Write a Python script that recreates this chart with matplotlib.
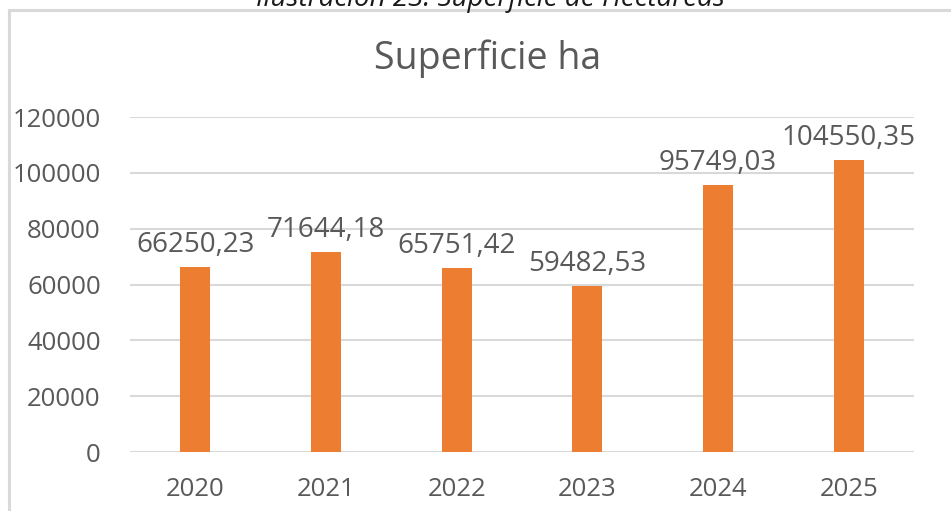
import matplotlib.pyplot as plt
from matplotlib.patches import Rectangle

# Datos
anios = ['2020', '2021', '2022', '2023', '2024', '2025']
superficie = [66250.23, 71644.18, 65751.42, 59482.53, 95749.03, 104550.35]
etiquetas = ['66250,23', '71644,18', '65751,42', '59482,53', '95749,03', '104550,35']
yticks = [0, 20000, 40000, 60000, 80000, 100000, 120000]

plt.rcParams['font.family'] = ['Open Sans', 'DejaVu Sans']
gris = '#595959'

fig = plt.figure(figsize=(9.51, 5.11), dpi=100)

# Marco del grafico (estilo Excel)
marco = Rectangle((9 / 951, -0.1), 1.2, 1 - 10 / 511 + 0.1, transform=fig.transFigure,
                  fill=False, edgecolor='#d9d9d9', linewidth=2.2, zorder=0)
fig.patches.append(marco)

# Pie de ilustracion cortado en la parte superior
fig.text(490 / 951, 1 + 1 / 511, 'Ilustración 23. Superficie de Hectáreas', ha='center', va='center',
         fontsize=20, style='italic', color='#1a1a1a')

ax = fig.add_axes([130 / 951, 1 - 452 / 511, 784 / 951, (452 - 117) / 511])
x = range(len(anios))
barras = ax.bar(x, superficie, width=0.23, color='#ED7D31', zorder=3)

for xi, v, t in zip(x, superficie, etiquetas):
    ax.annotate(t, (xi, v), xytext=(0, 8), textcoords='offset pixels',
                ha='center', va='bottom', fontsize=20, color=gris)

ax.set_xlim(-0.5, len(anios) - 0.5)
ax.set_ylim(0, 120000)
ax.set_yticks(yticks)
ax.set_yticklabels([str(v) for v in yticks])
ax.set_xticks(list(x))
ax.set_xticklabels(anios)
ax.tick_params(axis='both', length=0, labelsize=18.5, labelcolor=gris)
ax.tick_params(axis='y', pad=21)
ax.tick_params(axis='x', pad=18)
ax.grid(axis='y', color='#d9d9d9', linewidth=1.5, zorder=0)
for s in ax.spines.values():
    s.set_visible(False)

fig.text(488 / 951, 1 - 59 / 511, 'Superficie ha', ha='center', va='center',
         fontsize=27, color=gris)

fig.savefig('out.png', dpi=100)
